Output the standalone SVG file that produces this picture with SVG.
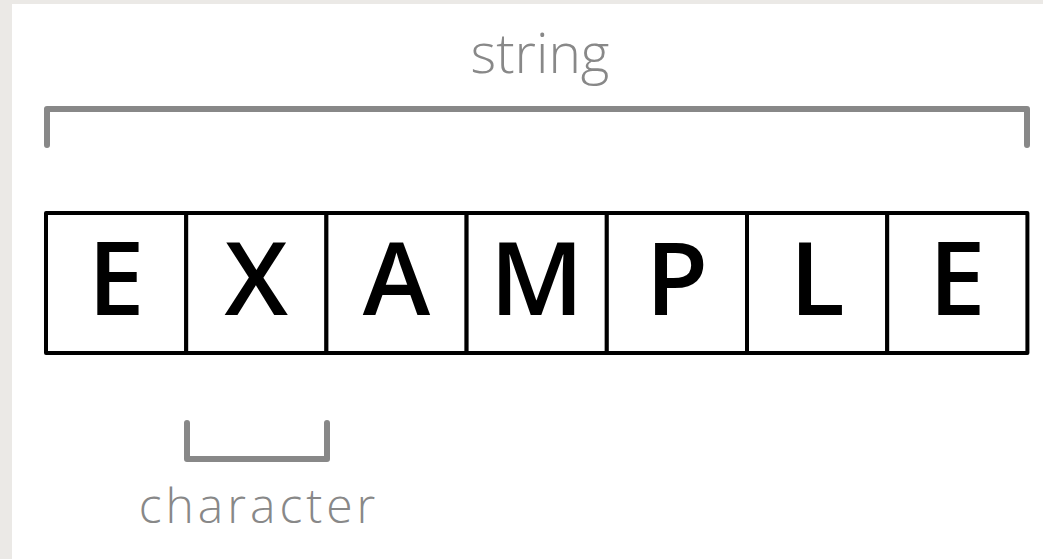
<svg xmlns="http://www.w3.org/2000/svg" width="1043" height="559" viewBox="0 0 1043 559">
<style>
.bg{fill:#ebe9e6}
.box{fill:#fff;stroke:#000;stroke-width:4;stroke-linejoin:round}
.ch{font-family:"Open Sans","Noto Sans","Liberation Sans",sans-serif;font-weight:600;font-size:102px;fill:#000;text-anchor:middle}
.lbl{font-family:"Open Sans","Noto Sans","Liberation Sans",sans-serif;font-weight:300;fill:#888;text-anchor:middle}
.br{fill:none;stroke:#888;stroke-width:6;stroke-linecap:round;stroke-linejoin:round}
</style>
<rect class="bg" x="0" y="0" width="1043" height="559"/>
<rect x="12" y="4" width="1031" height="555" fill="#fff"/>
<g id="string-label">
<path class="br" d="M47,145 V109 H1027 V145"/>
<text class="lbl" x="540" y="73" font-size="55">string</text>
</g>
<g id="box-E1"><rect class="box" x="46" y="213" width="140.2" height="140"/><text class="ch" x="116.1" y="315">E</text></g>
<g id="box-X"><rect class="box" x="186.2" y="213" width="140.2" height="140"/><text class="ch" x="256.3" y="315">X</text></g>
<g id="box-A"><rect class="box" x="326.4" y="213" width="140.2" height="140"/><text class="ch" x="396.5" y="315">A</text></g>
<g id="box-M"><rect class="box" x="466.6" y="213" width="140.2" height="140"/><text class="ch" x="536.7" y="315">M</text></g>
<g id="box-P"><rect class="box" x="606.8" y="213" width="140.2" height="140"/><text class="ch" x="676.9" y="315">P</text></g>
<g id="box-L"><rect class="box" x="747" y="213" width="140.2" height="140"/><text class="ch" x="817.1" y="315">L</text></g>
<g id="box-E2"><rect class="box" x="887.2" y="213" width="140.2" height="140"/><text class="ch" x="957.3" y="315">E</text></g>
<g id="character-label">
<path class="br" d="M187,423 V459 H327 V423"/>
<text class="lbl" x="259" y="523" font-size="48" letter-spacing="4">character</text>
</g>
</svg>
